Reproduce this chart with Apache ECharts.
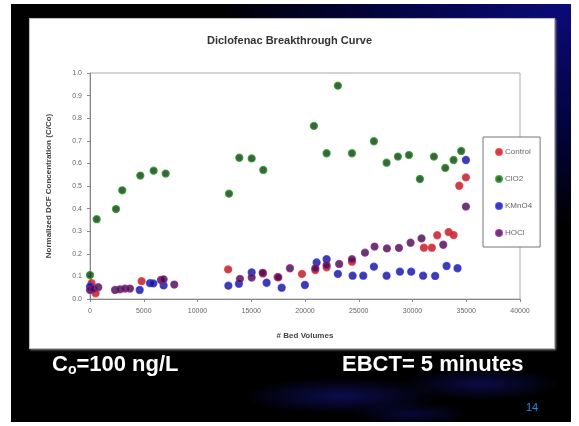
<!DOCTYPE html>
<html>
<head>
<meta charset="utf-8">
<script src="https://cdn.jsdelivr.net/npm/echarts@6/dist/echarts.min.js"></script>
<style>
  html, body { margin: 0; padding: 0; background: #fff; }
  #slide {
    position: absolute; left: 11px; top: 4px; width: 560px; height: 418px;
    background:
      radial-gradient(ellipse 100px 18px at 330px 392px, rgba(20,20,130,0.6), rgba(0,0,0,0)),
      radial-gradient(ellipse 80px 16px at 470px 380px, rgba(20,20,130,0.55), rgba(0,0,0,0)),
      radial-gradient(ellipse 60px 12px at 400px 410px, rgba(15,15,110,0.5), rgba(0,0,0,0)),
      radial-gradient(ellipse 420px 260px at 100% 0%, #0b0b7a 0%, #030340 45%, #000 85%);
  }
  #panel {
    position: absolute; left: 29px; top: 18px; width: 526px; height: 331px;
    background: #fff; box-shadow: 1px 1px 2px #888; border: 1px solid #bbb;
    box-sizing: border-box;
  }
  #chart { position: absolute; left: 0; top: 0; width: 579px; height: 426px; }
</style>
</head>
<body>
<div id="slide"></div>
<div id="panel"></div>
<div id="chart"></div>
<script>
// chart data
const seriesNames = ['Control', 'ClO2', 'KMnO4', 'HOCl'];

const control = [
  [150, 0.07], [520, 0.025], [4800, 0.079], [12850, 0.131], [16100, 0.113],
  [17450, 0.097], [19720, 0.111], [20960, 0.128], [22010, 0.14], [24370, 0.165],
  [31060, 0.227], [31800, 0.227], [32300, 0.282], [33360, 0.296], [33820, 0.283],
  [34350, 0.501], [34970, 0.538]
];

const clo2 = [
  [0, 0.106], [620, 0.353], [2420, 0.398], [3000, 0.481], [4680, 0.546],
  [5920, 0.568], [7040, 0.555], [12930, 0.466], [13890, 0.625], [15040, 0.622],
  [16120, 0.571], [20830, 0.766], [22010, 0.645], [23060, 0.944], [24370, 0.645],
  [26410, 0.698], [27590, 0.603], [28640, 0.63], [29670, 0.637], [30690, 0.531],
  [31990, 0.63], [33050, 0.58], [33820, 0.615], [34530, 0.655]
];

const kmno4 = [
  [0, 0.055], [4620, 0.04], [5580, 0.07], [5890, 0.069], [6850, 0.06],
  [12870, 0.059], [13850, 0.067], [15040, 0.118], [16430, 0.072], [17830, 0.05],
  [19990, 0.062], [21080, 0.162], [22010, 0.176], [23060, 0.111], [24430, 0.103],
  [25420, 0.103], [26410, 0.143], [27590, 0.103], [28830, 0.121], [29880, 0.121],
  [30990, 0.103], [32110, 0.102], [33170, 0.146], [34190, 0.136], [34970, 0.615]
];

const hocl = [
  [0, 0.04], [300, 0.045], [770, 0.052], [2330, 0.04], [2790, 0.043],
  [3260, 0.046], [3720, 0.046], [6600, 0.084], [6850, 0.087], [7840, 0.064],
  [13950, 0.089], [15040, 0.095], [16060, 0.116], [17520, 0.096], [18600, 0.136],
  [20960, 0.136], [22010, 0.15], [23180, 0.155], [24370, 0.176], [25580, 0.205],
  [26470, 0.232], [27620, 0.224], [28740, 0.226], [29820, 0.249], [30840, 0.268],
  [32860, 0.24], [34970, 0.409]
];

// dark centre + coloured rim, like the blurry excel markers
const fills = ['#b0142a', '#123812', '#10108a', '#3c0c44'];
const rims = ['#f03030', '#249a24', '#2e2ef0', '#8a2290'];

const chart = echarts.init(document.getElementById('chart'));

function scatter(i, data) {
  return {
    name: seriesNames[i],
    type: 'scatter',
    data: data,
    symbol: 'circle',
    symbolSize: 7,
    itemStyle: { color: fills[i], borderColor: rims[i], borderWidth: 1.3 }
  };
}

chart.setOption({
  backgroundColor: 'transparent',
  animation: false,
  title: {
    text: 'Diclofenac Breakthrough Curve',
    left: 'center',
    top: 30,
    textStyle: { fontFamily: 'Liberation Sans', fontSize: 11, fontWeight: 'bold', color: '#333' }
  },
  legend: {
    orient: 'vertical',
    left: 483,
    top: 137,
    padding: [11, 8, 10, 12],
    itemGap: 19,
    itemWidth: 6,
    itemHeight: 6,
    icon: 'circle',
    borderColor: '#777',
    borderWidth: 1,
    backgroundColor: '#fff',
    textStyle: { fontFamily: 'Liberation Sans', fontSize: 8, color: '#666', padding: [0, 0, 0, -2] },
    data: seriesNames
  },
  grid: {
    left: 90, top: 73, width: 430, height: 226,
    show: true, borderColor: '#aaa', borderWidth: 1, backgroundColor: '#fff'
  },
  xAxis: {
    type: 'value',
    min: 0, max: 40000, interval: 5000,
    name: '# Bed Volumes',
    nameLocation: 'middle',
    nameGap: 33,
    nameTextStyle: { fontFamily: 'Liberation Sans', fontSize: 8, fontWeight: 'bold', color: '#444' },
    axisLine: { lineStyle: { color: '#888' } },
    axisTick: { show: true, length: 3, lineStyle: { color: '#888' } },
    axisLabel: { fontFamily: 'Liberation Sans', fontSize: 7, color: '#666', margin: 9, formatter: v => String(v) },
    splitLine: { show: false }
  },
  yAxis: {
    type: 'value',
    min: 0, max: 1, interval: 0.1,
    name: 'Normalized DCF Concentration (C/Co)',
    nameLocation: 'middle',
    nameGap: 37,
    nameRotate: 90,
    nameTextStyle: { fontFamily: 'Liberation Sans', fontSize: 8, fontWeight: 'bold', color: '#444' },
    axisLine: { show: true, lineStyle: { color: '#888' } },
    axisTick: { show: true, length: 3, lineStyle: { color: '#888' } },
    axisLabel: {
      fontFamily: 'Liberation Sans', fontSize: 7, color: '#666', margin: 8,
      formatter: v => v.toFixed(1)
    },
    splitLine: { show: false }
  },
  graphic: [
    {
      type: 'text', left: 52, top: 354,
      style: {
        text: '{b|C}{s|o}{b|=100 ng/L}',
        rich: {
          b: { fontFamily: 'Liberation Sans', fontSize: 22, fontWeight: 'bold', fill: '#fff' },
          s: { fontFamily: 'Liberation Sans', fontSize: 14, fontWeight: 'bold', fill: '#fff', verticalAlign: 'bottom', padding: [10, 0, 0, 0] }
        }
      }
    },
    {
      type: 'text', left: 342, top: 354,
      style: { text: 'EBCT= 5 minutes', fontFamily: 'Liberation Sans', fontSize: 22, fontWeight: 'bold', fill: '#fff' }
    },
    {
      type: 'text', left: 526, top: 402,
      style: { text: '14', fontFamily: 'Liberation Sans', fontSize: 11, fill: '#1e8fe8' }
    }
  ],
  series: [scatter(0, control), scatter(1, clo2), scatter(2, kmno4), scatter(3, hocl)]
});
</script>
</body>
</html>
